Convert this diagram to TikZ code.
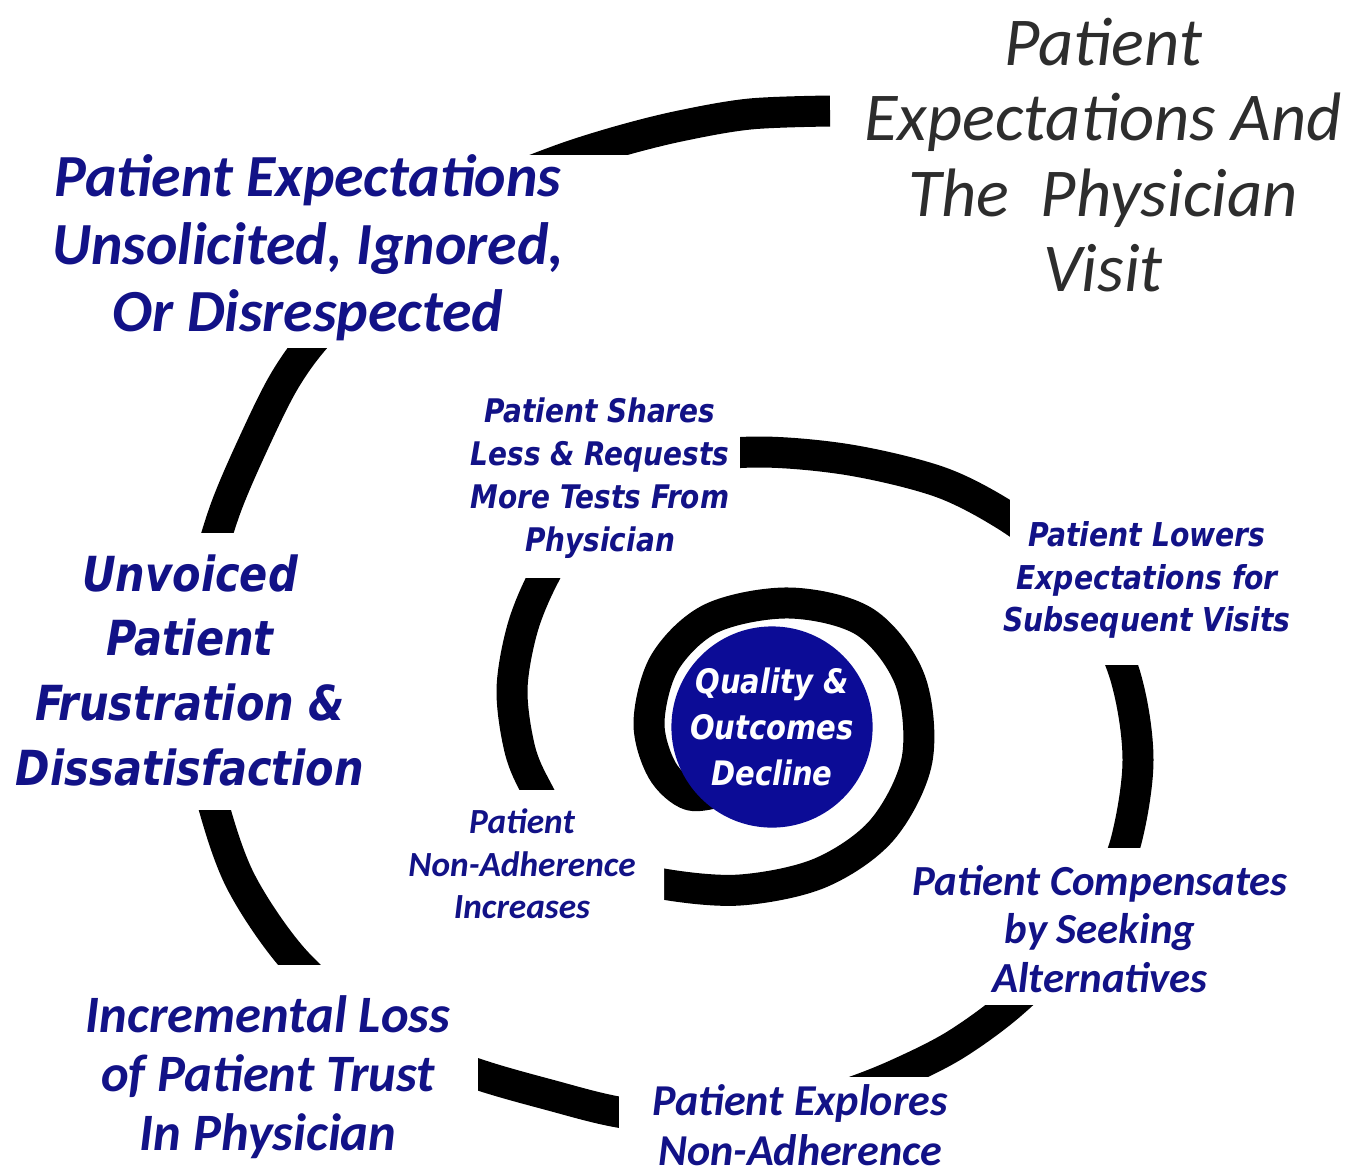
\documentclass[tikz,border=0pt]{standalone}
\usepackage{fontspec}
\newfontfamily\calfont{Carlito}
\newfontfamily\tahfont[FakeStretch=0.86]{DejaVu Sans}
\definecolor{navytext}{RGB}{18,18,135}
\definecolor{discblue}{RGB}{12,12,150}
\definecolor{titlegray}{RGB}{45,45,45}
\tikzset{
  spiralband/.style={line width=0.62cm, line cap=butt, line join=round, black},
  maskbox/.style={fill=white},
  callab/.style 2 args={text=navytext, align=center, inner sep=0pt,
     font=\calfont\bfseries\itshape\fontsize{#1}{#2}\selectfont},
  tahlab/.style 2 args={text=navytext, align=center, inner sep=0pt,
     font=\tahfont\bfseries\itshape\fontsize{#1}{#2}\selectfont},
}
\begin{document}
\begin{tikzpicture}[x=0.02cm,y=-0.02cm]
\useasboundingbox (0,0) rectangle (1355,1170);
\fill[white] (0,0) rectangle (1355,1170);

% spiral
\draw[spiralband] plot[smooth, tension=0.55] coordinates {
 (830,111) (750,114) (680,126) (620,141) (560,160) (500,185) (435,225)
 (370,285) (318,335) (285,380) (255,440) (225,510) (205,580) (195,650)
 (198,730) (212,800) (240,880) (290,955) (350,1010) (415,1050) (480,1075)
 (550,1095) (618,1112) (700,1122) (780,1115) (850,1093) (900,1073)
 (955,1045) (1010,1005) (1060,955) (1100,895) (1125,845) (1138,760)
 (1125,675) (1090,600) (1050,550) (1005,515) (940,482) (850,460) (760,452)
 (690,460) (620,490) (570,535) (542,580) (522,630) (512,690) (520,750)
 (537,790) (565,835) (610,868) (663,884) (740,890) (820,873) (882,830)
 (917,760) (910,680) (865,622) (790,603) (712,618) (665,662) (649,722)
 (662,770) (690,795) (725,790)};

% masks behind labels
\fill[maskbox] (38,155) rectangle (645,348);
\fill[maskbox] (5,533) rectangle (372,810);
\fill[maskbox] (65,965) rectangle (478,1175);
\fill[maskbox] (619,1077) rectangle (985,1175);
\fill[maskbox] (895,848) rectangle (1300,1005);
\fill[maskbox] (1010,478) rectangle (1300,665);
\fill[maskbox] (455,388) rectangle (740,578);
\fill[maskbox] (385,790) -- (600,790) -- (600,840) -- (664,840)
  -- (664,930) -- (385,930) -- cycle;

% centre disc
\node (core) [circle, fill=discblue, minimum size=3.9cm, inner sep=0pt,
  text=white, align=center,
  font=\tahfont\bfseries\itshape\fontsize{19.2}{26}\selectfont]
  at (772,727) {Quality \&\\Outcomes\\Decline};

% title
\node (title) [text=titlegray, align=center, inner sep=0pt,
  font=\calfont\itshape\fontsize{39}{43}\selectfont]
  at (1103,155) {Patient\\Expectations And\\The~ Physician\\Visit};

% labels
\node (unsolicited) [callab={34}{38.5}] at (308,248)
  {Patient Expectations\\Unsolicited, Ignored,\\Or Disrespected};
\node (unvoiced) [tahlab={27.5}{36.8}] at (190,670)
  {Unvoiced\\Patient\\Frustration \&\\Dissatisfaction};
\node (trust) [callab={29.9}{33.4}] at (268,1077)
  {Incremental Loss\\of Patient Trust\\In Physician};
\node (explores) [callab={25.1}{28.3}] at (800,1125)
  {Patient Explores\\Non-Adherence};
\node (compensates) [callab={24.4}{27.5}] at (1100,929)
  {Patient Compensates\\by Seeking\\Alternatives};
\node (lowers) [tahlab={18.7}{24.1}] at (1147,580)
  {Patient Lowers\\Expectations for\\Subsequent Visits};
\node (shares) [tahlab={18.5}{24.4}] at (600,478)
  {Patient Shares\\Less \& Requests\\More Tests From\\Physician};
\node (increases) [callab={20.1}{24.1}] at (522,864)
  {Patient\\Non-Adherence\\Increases};
\end{tikzpicture}
\end{document}
